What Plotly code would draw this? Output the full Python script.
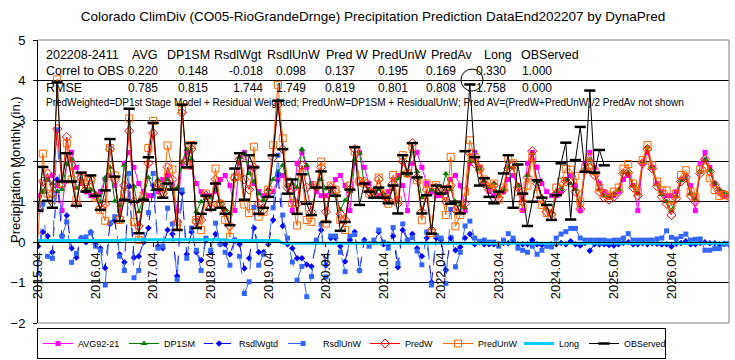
import plotly.graph_objects as go

# ---------------- data ----------------
months = [f"{2015 + (3 + k) // 12}.{(3 + k) % 12 + 1:02d}" for k in range(145)]
tick_labels = ["2015.04", "2016.04", "2017.04", "2018.04", "2019.04", "2020.04",
               "2021.04", "2022.04", "2023.04", "2024.04", "2025.04", "2026.04"]

avg92_21 = [
    1.15, 1.25, 1.55, 1.65, 1.40, 0.78, 1.95, 2.22, 1.85, 1.45, 1.25, 1.15,
    1.15, 1.25, 1.55, 1.65, 1.40, 0.78, 1.95, 2.22, 1.85, 1.45, 1.25, 1.15,
    1.15, 1.25, 1.55, 1.65, 1.40, 0.78, 1.95, 2.22, 1.85, 1.45, 1.25, 1.15,
    1.15, 1.25, 1.55, 1.65, 1.40, 0.78, 1.95, 2.22, 1.85, 1.45, 1.25, 1.15,
    1.15, 1.25, 1.55, 1.65, 1.40, 0.78, 1.95, 2.22, 1.85, 1.45, 1.25, 1.15,
    1.15, 1.25, 1.55, 1.65, 1.40, 0.78, 1.95, 2.22, 1.85, 1.45, 1.25, 1.15,
    1.15, 1.25, 1.55, 1.65, 1.40, 0.78, 1.95, 2.22, 1.85, 1.45, 1.25, 1.15,
    1.15, 1.25, 1.55, 1.65, 1.40, 0.78, 1.95, 2.22, 1.85, 1.45, 1.25, 1.15,
    1.15, 1.25, 1.55, 1.65, 1.40, 0.78, 1.95, 2.22, 1.85, 1.45, 1.25, 1.15,
    1.15, 1.25, 1.55, 1.65, 1.40, 0.78, 1.95, 2.22, 1.85, 1.45, 1.25, 1.15,
    1.15, 1.25, 1.55, 1.65, 1.40, 0.78, 1.95, 2.22, 1.85, 1.45, 1.25, 1.15,
    1.15, 1.25, 1.55, 1.65, 1.40, 0.78, 1.95, 2.22, 1.85, 1.45, 1.25, 1.15,
    1.15]

dp1sm = [
    0.90, 1.25, 1.55, 1.45, 1.25, 1.30, 1.94, 2.05, 1.33, 1.50, 1.30, 1.30,
    1.20, 1.00, 1.59, 1.85, 1.02, 0.90, 1.90, 1.36, 1.38, 0.75, 1.10, 1.60,
    1.30, 1.55, 1.35, 1.55, 1.35, 1.34, 1.98, 2.30, 2.05, 0.75, 1.00, 1.10,
    1.10, 1.35, 1.00, 0.80, 0.70, 1.55, 2.10, 2.20, 1.70, 1.50, 1.20, 1.05,
    1.30, 1.55, 1.74, 1.90, 1.40, 1.45, 1.35, 2.30, 1.90, 1.35, 1.35, 1.55,
    1.32, 1.25, 1.15, 0.80, 1.03, 1.25, 2.05, 2.20, 1.45, 1.30, 1.20, 1.30,
    1.20, 1.10, 1.30, 1.57, 1.70, 1.65, 2.25, 1.75, 1.10, 1.20, 1.29, 1.25,
    1.20, 1.69, 1.30, 1.00, 0.92, 0.85, 2.00, 2.00, 1.80, 1.50, 1.35, 1.45,
    1.15, 1.30, 1.85, 1.85, 1.40, 1.05, 1.65, 2.20, 1.50, 1.12, 0.82, 0.75,
    1.25, 1.30, 1.55, 1.45, 1.30, 0.90, 1.80, 2.05, 1.70, 1.30, 1.15, 1.12,
    1.20, 1.30, 1.72, 1.72, 1.40, 1.20, 1.98, 2.35, 1.85, 1.42, 1.18, 1.00,
    0.78, 1.12, 1.52, 1.58, 1.20, 1.05, 1.72, 2.05, 1.78, 1.45, 1.30, 1.22,
    1.18]

rsdl_wgtd = [
    -0.10, 0.25, 0.15, -0.25, 1.55, 0.15, 0.66, -0.15, -0.38, 0.10, 0.00, 0.25,
    -0.05, -0.15, -0.64, 0.45, 0.53, -0.30, -0.50, 1.39, -0.38, -0.35, 0.00, 0.35,
    1.40, -0.10, -0.15, 0.30, 0.20, -0.84, 1.22, -0.30, 0.25, -0.25, -0.45, 0.05,
    -0.25, 0.20, -0.05, -0.05, -0.30, 0.05, -0.05, -0.65, -0.40, 0.35, -0.25, -0.25,
    -0.05, 0.55, 1.66, 0.40, -0.05, -0.15, -0.40, -0.40, -0.55, -0.60, 0.00, 0.30,
    -0.57, 0.10, 0.10, -0.10, -0.48, 0.05, 0.25, -0.70, 0.05, -0.05, 0.00, 0.25,
    -0.05, -0.05, 0.15, -0.62, 0.30, 0.05, 0.20, -0.15, -0.35, 0.10, -0.99, 0.10,
    0.05, -0.69, 0.10, -0.20, -0.12, 0.10, 0.20, -0.05, 0.00, -0.05, -0.05, -0.05,
    -0.05, -0.02, -0.03, 0.05, -0.05, -0.05, -0.05, 0.05, -0.05, -0.07, -0.07, -0.05,
    -0.05, -0.02, -0.05, 0.02, -0.05, -0.08, -0.02, -0.21, -0.05, -0.05, -0.05, -0.07,
    -0.08, -0.05, -0.02, 0.00, -0.05, -0.05, -0.03, -0.05, -0.03, -0.04, -0.06, -0.05,
    -0.11, -0.04, -0.02, 0.02, -0.05, -0.05, -0.02, 0.00, -0.03, -0.03, -0.05, -0.04,
    -0.06]

rsdl_unw = [
    -0.77, 0.94, -0.35, -0.40, 2.78, 0.15, 0.50, -0.50, -0.28, 0.10, 0.13, 0.23,
    -0.10, -0.20, -1.06, 0.48, 0.63, -0.35, -0.70, 1.70, -0.88, -0.70, 0.05, 0.73,
    1.70, -0.15, -0.10, 0.84, 0.45, -0.92, 1.29, -0.40, 0.35, -0.20, -0.70, 0.10,
    -0.20, 0.47, -0.05, -0.25, -0.57, 0.05, -0.35, -1.27, -0.98, 0.86, -0.57, -0.30,
    0.00, 0.85, 2.15, 0.67, 0.10, -0.49, -0.94, -0.60, -1.35, -0.85, 0.05, 0.44,
    -0.86, 0.15, 0.15, -0.25, -0.73, 0.15, 0.19, -0.70, 0.00, -0.10, 0.05, 0.30,
    0.00, -0.15, 0.36, -0.53, 0.45, 0.05, 0.11, -0.22, -0.56, 0.25, -1.06, 0.16,
    0.10, -1.02, 0.81, -0.61, -0.25, 0.40, 0.52, 0.10, 0.02, 0.05, 0.00, 0.00,
    -0.10, 0.05, 0.21, 0.10, -0.15, -0.20, -0.25, -0.10, -0.30, -0.20, -0.10, -0.12,
    0.10, 0.20, 0.26, 0.34, 0.34, 0.10, 0.05, 0.05, 0.05, 0.05, 0.05, 0.03,
    0.05, 0.05, 0.10, 0.21, 0.05, 0.05, 0.05, 0.05, 0.05, 0.08, 0.10, 0.28,
    0.12, 0.08, 0.14, 0.20, 0.05, 0.07, 0.08, -0.20, -0.20, -0.16, -0.16, -0.05,
    -0.03]

pred_w = [
    0.80, 1.50, 1.70, 1.20, 2.80, 1.45, 2.60, 1.90, 0.95, 1.60, 1.30, 1.55,
    1.15, 0.85, 0.95, 2.30, 1.55, 0.60, 1.40, 2.75, 1.00, 0.40, 1.10, 1.95,
    2.70, 1.45, 1.20, 1.85, 1.55, 0.50, 3.20, 2.00, 2.30, 0.50, 0.55, 1.15,
    0.85, 1.55, 0.95, 0.75, 0.40, 1.60, 2.05, 1.55, 1.30, 1.85, 0.95, 0.80,
    1.25, 2.10, 3.40, 2.30, 1.35, 1.30, 0.95, 1.90, 1.35, 0.75, 1.35, 1.85,
    0.75, 1.35, 1.25, 0.70, 0.55, 1.30, 2.30, 1.50, 1.50, 1.25, 1.20, 1.55,
    1.15, 1.05, 1.45, 0.95, 2.00, 1.70, 2.45, 1.60, 0.75, 1.30, 0.30, 1.35,
    1.25, 1.00, 1.40, 0.80, 0.80, 0.95, 2.20, 1.95, 1.80, 1.45, 1.30, 1.40,
    1.10, 1.28, 1.82, 1.90, 1.35, 1.00, 1.60, 2.25, 1.45, 1.05, 0.75, 0.70,
    1.20, 1.28, 1.50, 1.47, 1.25, 0.82, 1.78, 1.84, 1.65, 1.25, 1.10, 1.05,
    1.12, 1.25, 1.70, 1.72, 1.35, 1.15, 1.95, 2.30, 1.82, 1.38, 1.12, 0.95,
    0.67, 1.08, 1.50, 1.60, 1.15, 1.00, 1.70, 2.05, 1.75, 1.42, 1.25, 1.18,
    1.12]

pred_unw = [
    0.13, 2.19, 1.20, 1.05, 4.03, 1.45, 2.44, 1.55, 1.05, 1.60, 1.43, 1.53,
    1.10, 0.80, 0.53, 2.33, 1.65, 0.55, 1.20, 3.06, 0.50, 0.05, 1.15, 2.33,
    3.00, 1.40, 1.25, 2.39, 1.80, 0.42, 3.27, 1.90, 2.40, 0.55, 0.30, 1.20,
    0.90, 1.82, 0.95, 0.55, 0.13, 1.60, 1.75, 0.93, 0.72, 2.36, 0.63, 0.75,
    1.30, 2.40, 3.89, 2.57, 1.50, 0.96, 0.41, 1.70, 0.55, 0.50, 1.40, 1.99,
    0.46, 1.40, 1.30, 0.55, 0.30, 1.40, 2.24, 1.50, 1.45, 1.20, 1.25, 1.60,
    1.20, 0.95, 1.66, 1.04, 2.15, 1.70, 2.36, 1.53, 0.54, 1.45, 0.23, 1.41,
    1.30, 0.67, 2.11, 0.39, 0.67, 1.25, 2.52, 2.10, 1.82, 1.55, 1.35, 1.45,
    1.05, 1.35, 2.06, 1.95, 1.25, 0.85, 1.40, 2.10, 1.20, 0.92, 0.72, 0.63,
    1.35, 1.50, 1.81, 1.79, 1.64, 1.00, 1.85, 2.10, 1.75, 1.35, 1.20, 1.15,
    1.25, 1.35, 1.82, 1.93, 1.45, 1.25, 2.03, 2.40, 1.90, 1.50, 1.28, 1.28,
    0.90, 1.20, 1.66, 1.78, 1.25, 1.12, 1.80, 1.85, 1.58, 1.29, 1.14, 1.17,
    1.15]

long_term = [
    0.04, 0.04, 0.04, 0.04, 0.04, 0.04, 0.04, 0.04, 0.04, 0.04, 0.04, 0.04,
    0.04, 0.04, 0.04, 0.04, 0.04, 0.04, 0.06, 0.06, 0.06, 0.06, 0.06, 0.06,
    0.06, 0.06, 0.06, 0.06, 0.06, 0.06, 0.06, 0.06, 0.06, 0.06, 0.06, 0.06,
    0.06, 0.06, 0.06, 0.06, 0.04, 0.04, 0.04, 0.04, 0.04, 0.04, 0.04, 0.04,
    0.04, 0.04, 0.04, -0.03, -0.03, -0.03, -0.03, -0.03, -0.03, -0.03, -0.03, -0.03,
    -0.03, -0.03, -0.03, -0.03, -0.03, -0.03, -0.03, -0.03, -0.03, -0.03, -0.03, -0.03,
    -0.03, -0.03, -0.03, -0.03, -0.03, -0.03, -0.03, -0.03, -0.03, -0.03, -0.03, -0.03,
    -0.03, -0.03, -0.03, -0.03, -0.03, -0.03, -0.03, -0.03, -0.03, -0.03, -0.03, -0.03,
    -0.03, -0.03, -0.03, -0.03, -0.03, -0.03, -0.03, -0.03, -0.03, -0.03, -0.03, -0.03,
    -0.03, -0.03, -0.03, -0.03, -0.03, -0.03, -0.03, -0.03, -0.03, -0.03, -0.03, -0.03,
    -0.03, -0.03, -0.03, -0.03, -0.03, -0.03, -0.03, -0.03, -0.03, -0.03, -0.03, -0.03,
    -0.03, -0.03, -0.03, -0.03, -0.03, -0.03, -0.03, -0.03, -0.03, -0.03, -0.03, -0.03,
    -0.03]

observed = [
    0.78, 1.86, 1.02, 0.85, 3.95, 1.50, 2.20, 1.50, 0.90, 1.72, 1.25, 1.65,
    1.15, 0.80, 1.28, 2.55, 1.62, 0.52, 1.05, 3.30, 1.00, 0.22, 1.05, 2.10,
    2.95, 1.30, 1.10, 1.45, 1.30, 0.30, 3.40, 1.85, 2.45, 0.35, 0.70, 1.15,
    0.80, 1.45, 0.85, 0.70, 0.42, 1.82, 2.20, 1.05, 2.15, 1.85, 0.70, 0.85,
    1.12, 2.15, 3.50, 2.30, 1.20, 1.55, 0.70, 1.68, 0.95, 0.67, 1.35, 1.75,
    0.50, 1.35, 1.15, 0.28, 0.50, 1.30, 2.35, 0.92, 1.45, 1.25, 1.10, 1.35,
    1.10, 0.96, 1.40, 0.71, 2.15, 1.70, 2.45, 1.60, 0.71, 1.16, 0.21, 1.40,
    1.20, 1.37, 0.95, 1.00, 0.71, 2.25, 3.90, 2.10, 1.40, 1.58, 1.12, 0.96,
    1.25, 1.70, 2.15, 0.85, 1.92, 1.20, 0.40, 1.00, 1.53, 1.10, 0.92, 0.55,
    1.16, 1.95, 2.46, 0.56, 2.03, 2.85, 1.74, 3.75, 1.72, 2.28, 1.90]

table_header = ["202208-2411", "AVG", "DP1SM", "RsdlWgt", "RsdlUnW", "Pred W",
                "PredUnW", "PredAv", "Long", "OBServed"]
correl_to_obs = ["0.220", "0.148", "-0.018", "0.098", "0.137", "0.195", "0.169", "0.330", "1.000"]
rmse_vals = ["0.785", "0.815", "1.744", "1.749", "0.819", "0.801", "0.808", "1.758", "0.000"]
note_text = ("PredWeighted=DP1st Stage Model + Residual Weighted; PredUnW=DP1SM + ResidualUnW; "
             "Pred AV=(PredW+PredUnW)/2 PredAv not shown")
title_text = ("Colorado ClimDiv (CO05-RioGrandeDrnge) Precipitation Prediction "
              "DataEnd202207 by DynaPred")
y_title = "Precipitation Monthly (in.)"

# ---------------- layout geometry ----------------
W, H = 735, 360
ML, MR, MT, MB = 38, 6, 40, 37
PW, PH = W - ML - MR, H - MT - MB
FONT = "Liberation Sans, Arial, sans-serif"


def fx(px):
    return (px - ML) / PW


def fy(py):
    return (H - MB - py) / PH


fig = go.Figure()

fig.add_trace(go.Scatter(
    x=months, y=avg92_21, name="AVG92-21", mode="lines+markers", legendwidth=41,
    line=dict(color="#FF00FF", width=1),
    marker=dict(symbol="square", size=5, color="#FF00FF")))
fig.add_trace(go.Scatter(
    x=months, y=dp1sm, name="DP1SM", mode="lines+markers", legendwidth=30,
    line=dict(color="#008000", width=1),
    marker=dict(symbol="triangle-up", size=6, color="#008000")))
fig.add_trace(go.Scatter(
    x=months, y=rsdl_wgtd, name="RsdlWgtd", mode="lines+markers", legendwidth=39,
    line=dict(color="#0000FF", width=1, dash="dash"),
    marker=dict(symbol="diamond", size=5, color="#0000FF")))
fig.add_trace(go.Scatter(
    x=months, y=rsdl_unw, name="RsdlUnW", mode="lines+markers", legendwidth=37,
    line=dict(color="#3366FF", width=1, dash="longdash"),
    marker=dict(symbol="square", size=5, color="#3366FF")))
fig.add_trace(go.Scatter(
    x=months, y=pred_w, name="PredW", mode="lines+markers", legendwidth=28,
    line=dict(color="#FF0000", width=1),
    marker=dict(symbol="diamond-open", size=7, color="#FF0000", line=dict(width=1))))
fig.add_trace(go.Scatter(
    x=months, y=pred_unw, name="PredUnW", mode="lines+markers", legendwidth=36,
    line=dict(color="#FF6600", width=1),
    marker=dict(symbol="square-open", size=7, color="#FF6600", line=dict(width=1))))
fig.add_trace(go.Scatter(
    x=months, y=long_term, name="Long", mode="lines", legendwidth=20,
    line=dict(color="#00CCFF", width=3)))
fig.add_trace(go.Scatter(
    x=months[:len(observed)], y=observed, name="OBServed", mode="lines+markers",
    legendwidth=36,
    line=dict(color="#000000", width=1),
    marker=dict(symbol="line-ew", size=8, color="#000000",
                line=dict(width=2.5, color="#000000"))))

annotations = []
head_left = [46, 132, 167, 214, 267, 326, 372, 431, 484, 521]
num_right = [158, 208, 263, 306, 355, 408, 456, 506, 552]
for txt, px in zip(table_header, head_left):
    annotations.append(dict(text=txt, x=fx(px - 2), y=fy(55), xref="paper", yref="paper",
                            xanchor="left", yanchor="middle", showarrow=False,
                            font=dict(family=FONT, size=12.5, color="black")))
for label, vals, py in (("Correl to OBS", correl_to_obs, 71), ("RMSE", rmse_vals, 88)):
    annotations.append(dict(text=label, x=fx(44), y=fy(py), xref="paper", yref="paper",
                            xanchor="left", yanchor="middle", showarrow=False,
                            font=dict(family=FONT, size=12.5, color="black")))
    for txt, px in zip(vals, num_right):
        annotations.append(dict(text=txt, x=fx(px + 2), y=fy(py), xref="paper", yref="paper",
                                xanchor="right", yanchor="middle", showarrow=False,
                                font=dict(family=FONT, size=12, color="black")))
annotations.append(dict(text=note_text, x=fx(44), y=fy(102), xref="paper", yref="paper",
                        xanchor="left", yanchor="middle", showarrow=False,
                        font=dict(family=FONT, size=10, color="black")))
annotations.append(dict(text=y_title, x=fx(15), y=fy(170), xref="paper", yref="paper",
                        xanchor="center", yanchor="middle", showarrow=False, textangle=-90,
                        font=dict(family=FONT, size=13, color="black")))

shapes = [
    dict(type="line", xref="paper", yref="paper", x0=0, x1=1, y0=1, y1=1,
         line=dict(color="#808080", width=1), layer="above"),
    dict(type="line", xref="paper", yref="paper", x0=1, x1=1, y0=0, y1=1,
         line=dict(color="#808080", width=1), layer="above"),
    dict(type="line", xref="paper", yref="paper", x0=0, x1=1, y0=0, y1=0,
         line=dict(color="#808080", width=1), layer="above"),
    dict(type="circle", xref="paper", yref="paper",
         x0=fx(461), x1=fx(483), y0=fy(91), y1=fy(69),
         line=dict(color="black", width=1), layer="above"),
]

fig.update_layout(
    width=W, height=H,
    margin=dict(l=ML, r=MR, t=MT, b=MB, autoexpand=False),
    paper_bgcolor="white", plot_bgcolor="white",
    font=dict(family=FONT, color="black"),
    title=dict(text=title_text, x=373 / W, xanchor="center", y=1 - 16 / H,
               yanchor="middle", font=dict(family=FONT, size=13.5, color="black")),
    showlegend=True,
    legend=dict(orientation="h", x=fx(37), xanchor="left", y=fy(328), yanchor="top",
                bordercolor="black", borderwidth=1, bgcolor="white",
                font=dict(family=FONT, size=9, color="black"),
                itemwidth=30, tracegroupgap=0),
    xaxis=dict(type="category", categoryorder="array", categoryarray=months,
               range=[0, len(months) - 1], tickmode="array",
               tickvals=tick_labels, ticktext=tick_labels, tickangle=-90,
               anchor="free", position=2 / 7, showline=True, linecolor="black",
               linewidth=1, ticks="outside", ticklen=4, tickcolor="black",
               showgrid=False, zeroline=False, automargin=False,
               tickfont=dict(family=FONT, size=13, color="black")),
    yaxis=dict(range=[-2, 5], tickmode="array", tickvals=[-2, -1, 0, 1, 2, 3, 4, 5],
               showgrid=True, gridcolor="black", gridwidth=1, zeroline=False,
               showline=True, linecolor="black", linewidth=1, ticks="outside",
               ticklen=4, tickcolor="black", automargin=False, ticklabelstandoff=5,
               tickfont=dict(family=FONT, size=13, color="black")),
    annotations=annotations,
    shapes=shapes,
)

fig.write_html("out.html", config={"displayModeBar": False},
               post_script="document.body.style.margin='0px';document.body.style.overflow='hidden';")
